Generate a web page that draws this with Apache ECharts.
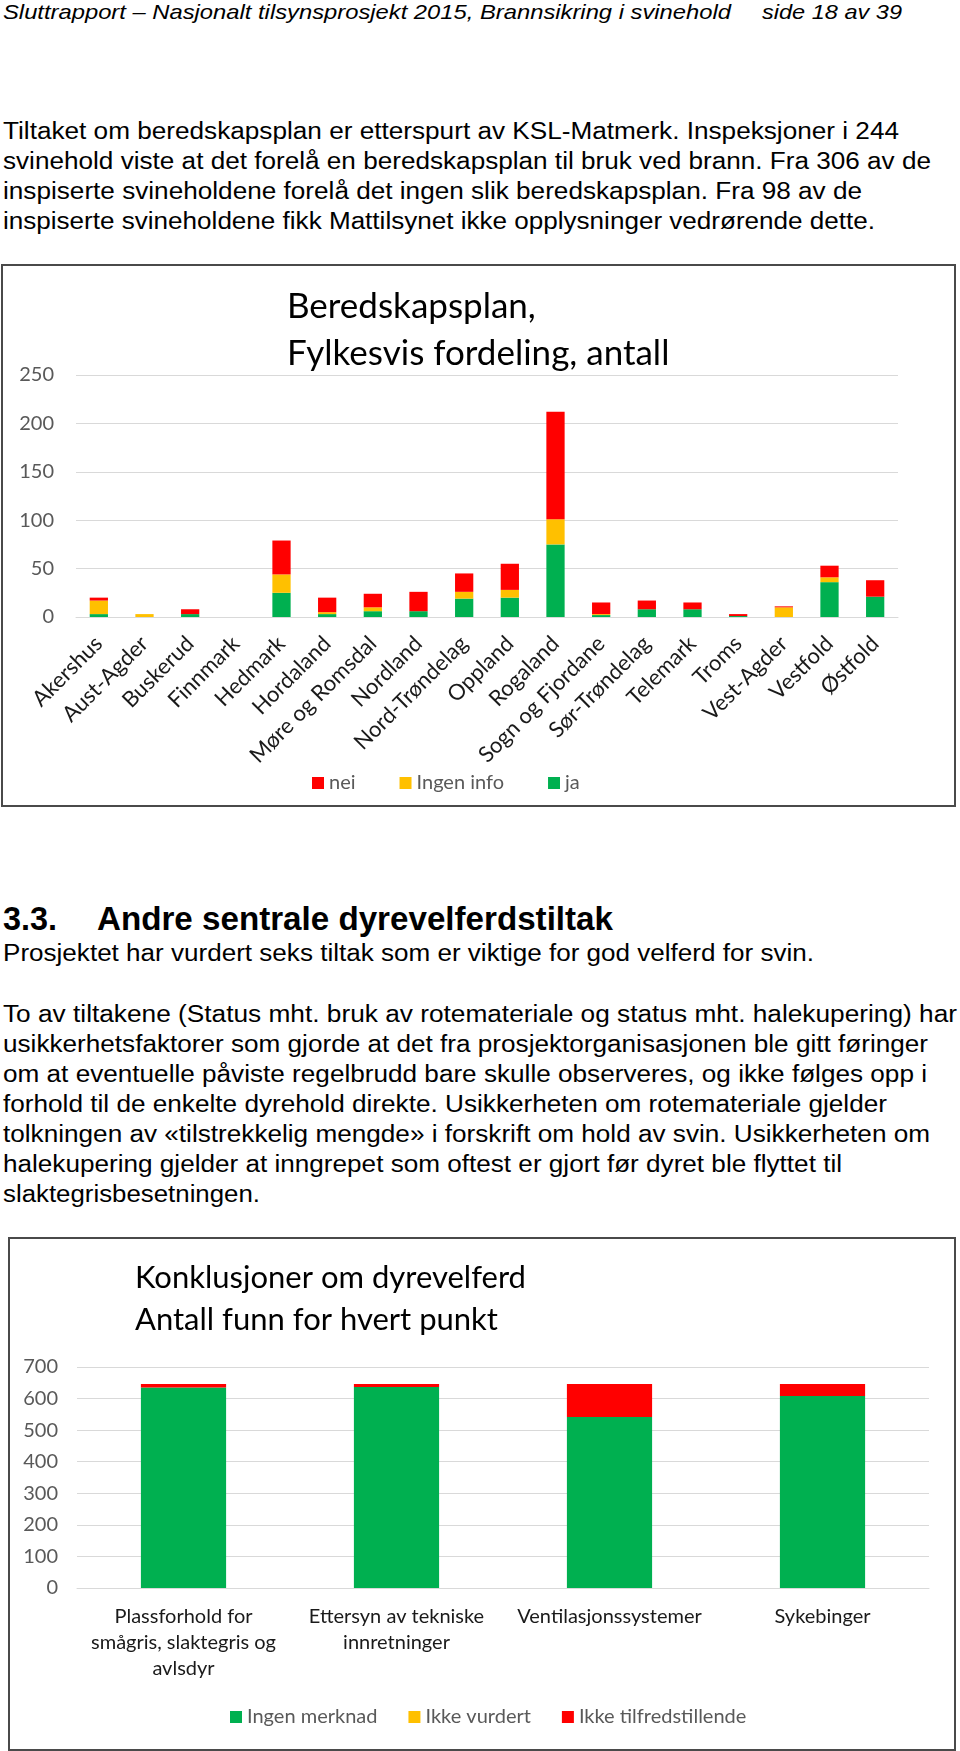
<!DOCTYPE html>
<html>
<head>
<meta charset="utf-8">
<script src="https://cdn.jsdelivr.net/npm/echarts@6/dist/echarts.min.js"></script>
<style>
  html, body { margin: 0; padding: 0; background: #fff; }
  body { width: 960px; height: 1751px; position: relative; overflow: hidden; }
  #page { position: absolute; left: 0; top: 0; }
  .box { position: absolute; border: 2px solid #4a4a4a; box-sizing: border-box; background: #fff; }
  .box > div { width: 100%; height: 100%; }
  text { font-family: "Liberation Sans", Arial, sans-serif; fill: #000; }
</style>
</head>
<body>
<svg id="page" width="960" height="1751"></svg>
<div class="box" id="box1" style="left:1px; top:264px; width:955px; height:543px;"><div id="c1"></div></div>
<div class="box" id="box2" style="left:8px; top:1237px; width:948px; height:514px;"><div id="c2"></div></div>
<script>
// ---------- Chart 1 data ----------
const fylker = ['Akershus','Aust-Agder','Buskerud','Finnmark','Hedmark','Hordaland','Møre og Romsdal','Nordland','Nord-Trøndelag','Oppland','Rogaland','Sogn og Fjordane','Sør-Trøndelag','Telemark','Troms','Vest-Agder','Vestfold','Østfold'];
const ja        = [3, 0, 3, 0, 25, 3, 6, 6, 19, 20, 75, 2, 8, 8, 1, 0, 36, 21];
const ingenInfo = [14, 3, 0, 0, 19, 2, 4, 0, 7, 8, 26, 1, 0, 0, 0, 10, 5, 0];
const nei       = [3, 0, 5, 0, 35, 15, 14, 20, 19, 27, 111, 12, 9, 7, 2, 1, 12, 17];
const yTicks1 = { min: 0, max: 250, interval: 50 };

// ---------- Chart 2 data ----------
const punkter = ['Plassforhold for\nsmågris, slaktegris og\navlsdyr', 'Ettersyn av tekniske\ninnretninger', 'Ventilasjonssystemer', 'Sykebinger'];
const ingenMerknad = [635, 637, 542, 608];
const ikkeVurdert = [0, 0, 0, 0];
const ikkeTilfreds = [11, 9, 104, 38];
const yTicks2 = { min: 0, max: 700, interval: 100 };

const RED = '#FF0000', YEL = '#FFC000', GRN = '#00B050';
const FONT = 'Lato, Carlito, Calibri, sans-serif';

// ---------- Page text ----------
const lines = [
  // [text, x0, x1, baseline, size, weight, style]
  ['Sluttrapport – Nasjonalt tilsynsprosjekt 2015, Brannsikring i svinehold', 3, 731, 18.5, 21, 'normal', 'italic'],
  ['side 18 av 39', 762, 902, 18.5, 21, 'normal', 'italic'],
  ['Tiltaket om beredskapsplan er etterspurt av KSL-Matmerk. Inspeksjoner i 244', 3, 899, 139.3, 23.5, 'normal', 'normal'],
  ['svinehold viste at det forelå en beredskapsplan til bruk ved brann. Fra 306 av de', 3, 931, 169.3, 23.5, 'normal', 'normal'],
  ['inspiserte svineholdene forelå det ingen slik beredskapsplan. Fra 98 av de', 3, 862, 199.3, 23.5, 'normal', 'normal'],
  ['inspiserte svineholdene fikk Mattilsynet ikke opplysninger vedrørende dette.', 3, 875, 229.3, 23.5, 'normal', 'normal'],
  ['3.3.', 3, 57, 930, 33, 'bold', 'normal'],
  ['Andre sentrale dyrevelferdstiltak', 97, 613, 930, 33, 'bold', 'normal'],
  ['Prosjektet har vurdert seks tiltak som er viktige for god velferd for svin.', 3, 814, 961, 23.5, 'normal', 'normal'],
  ['To av tiltakene (Status mht. bruk av rotemateriale og status mht. halekupering) har', 3, 957, 1021.7, 23.5, 'normal', 'normal'],
  ['usikkerhetsfaktorer som gjorde at det fra prosjektorganisasjonen ble gitt føringer', 3, 928, 1051.7, 23.5, 'normal', 'normal'],
  ['om at eventuelle påviste regelbrudd bare skulle observeres, og ikke følges opp i', 3, 927, 1081.7, 23.5, 'normal', 'normal'],
  ['forhold til de enkelte dyrehold direkte. Usikkerheten om rotemateriale gjelder', 3, 887, 1111.7, 23.5, 'normal', 'normal'],
  ['tolkningen av «tilstrekkelig mengde» i forskrift om hold av svin. Usikkerheten om', 3, 930, 1141.7, 23.5, 'normal', 'normal'],
  ['halekupering gjelder at inngrepet som oftest er gjort før dyret ble flyttet til', 3, 842, 1171.7, 23.5, 'normal', 'normal'],
  ['slaktegrisbesetningen.', 3, 260, 1201.7, 23.5, 'normal', 'normal']
];
const svg = document.getElementById('page');
const NS = 'http://www.w3.org/2000/svg';
lines.forEach(l => {
  const t = document.createElementNS(NS, 'text');
  t.setAttribute('x', l[1]);
  t.setAttribute('y', l[3]);
  t.setAttribute('font-size', l[4]);
  t.setAttribute('font-weight', l[5]);
  t.setAttribute('font-style', l[6]);
  t.setAttribute('textLength', l[2] - l[1]);
  t.setAttribute('lengthAdjust', 'spacingAndGlyphs');
  t.textContent = l[0];
  svg.appendChild(t);
});

// ---------- Chart 1 ----------
const c1 = echarts.init(document.getElementById('c1'), null, { renderer: 'canvas' });
c1.setOption({
  animation: false,
  textStyle: { fontFamily: FONT },
  title: {
    text: 'Beredskapsplan,\nFylkesvis fordeling, antall',
    left: 279, top: 12,
    textStyle: { fontFamily: FONT, fontSize: 35, fontWeight: 'normal', color: '#000', lineHeight: 47 }
  },
  legend: {
    data: ['nei', 'Ingen info', 'ja'],
    left: 304, top: 502,
    itemWidth: 12, itemHeight: 12, itemGap: 44,
    icon: 'rect',
    textStyle: { fontFamily: FONT, fontSize: 20, color: '#595959' }
  },
  grid: { left: 73, right: 56, top: 109, bottom: 188, containLabel: false },
  xAxis: {
    type: 'category', data: fylker,
    axisLine: { lineStyle: { color: '#D9D9D9' } },
    axisTick: { show: false },
    axisLabel: { interval: 0, rotate: 45, margin: 23, fontFamily: FONT, fontSize: 22, color: '#1a1a1a' }
  },
  yAxis: {
    type: 'value', min: yTicks1.min, max: yTicks1.max, interval: yTicks1.interval,
    axisLine: { show: false }, axisTick: { show: false },
    splitLine: { lineStyle: { color: '#D9D9D9', width: 1 } },
    axisLabel: { margin: 22, fontFamily: FONT, fontSize: 20, color: '#595959' }
  },
  series: [
    { name: 'ja', type: 'bar', stack: 's', data: ja, itemStyle: { color: GRN }, barCategoryGap: '60%' },
    { name: 'Ingen info', type: 'bar', stack: 's', data: ingenInfo, itemStyle: { color: YEL } },
    { name: 'nei', type: 'bar', stack: 's', data: nei, itemStyle: { color: RED } }
  ]
});

// ---------- Chart 2 ----------
const c2 = echarts.init(document.getElementById('c2'), null, { renderer: 'canvas' });
c2.setOption({
  animation: false,
  textStyle: { fontFamily: FONT },
  title: {
    text: 'Konklusjoner om dyrevelferd\nAntall funn for hvert punkt',
    left: 120, top: 13,
    textStyle: { fontFamily: FONT, fontSize: 31, fontWeight: 'normal', color: '#000', lineHeight: 42 }
  },
  legend: {
    data: ['Ingen merknad', 'Ikke vurdert', 'Ikke tilfredstillende'],
    left: 215, top: 463,
    itemWidth: 12, itemHeight: 12, itemGap: 31,
    icon: 'rect',
    textStyle: { fontFamily: FONT, fontSize: 20, color: '#595959' }
  },
  grid: { left: 67, right: 25, top: 128, bottom: 161, containLabel: false },
  xAxis: {
    type: 'category', data: punkter,
    axisLine: { lineStyle: { color: '#D9D9D9' } },
    axisTick: { show: false },
    axisLabel: { interval: 0, margin: 16, fontFamily: FONT, fontSize: 20, lineHeight: 26, color: '#1a1a1a', align: 'center' }
  },
  yAxis: {
    type: 'value', min: yTicks2.min, max: yTicks2.max, interval: yTicks2.interval,
    axisLine: { show: false }, axisTick: { show: false },
    splitLine: { lineStyle: { color: '#D9D9D9', width: 1 } },
    axisLabel: { margin: 19, fontFamily: FONT, fontSize: 20, color: '#595959' }
  },
  series: [
    { name: 'Ingen merknad', type: 'bar', stack: 's', data: ingenMerknad, itemStyle: { color: GRN }, barCategoryGap: '60%' },
    { name: 'Ikke vurdert', type: 'bar', stack: 's', data: ikkeVurdert, itemStyle: { color: YEL } },
    { name: 'Ikke tilfredstillende', type: 'bar', stack: 's', data: ikkeTilfreds, itemStyle: { color: RED } }
  ]
});
</script>
</body>
</html>
